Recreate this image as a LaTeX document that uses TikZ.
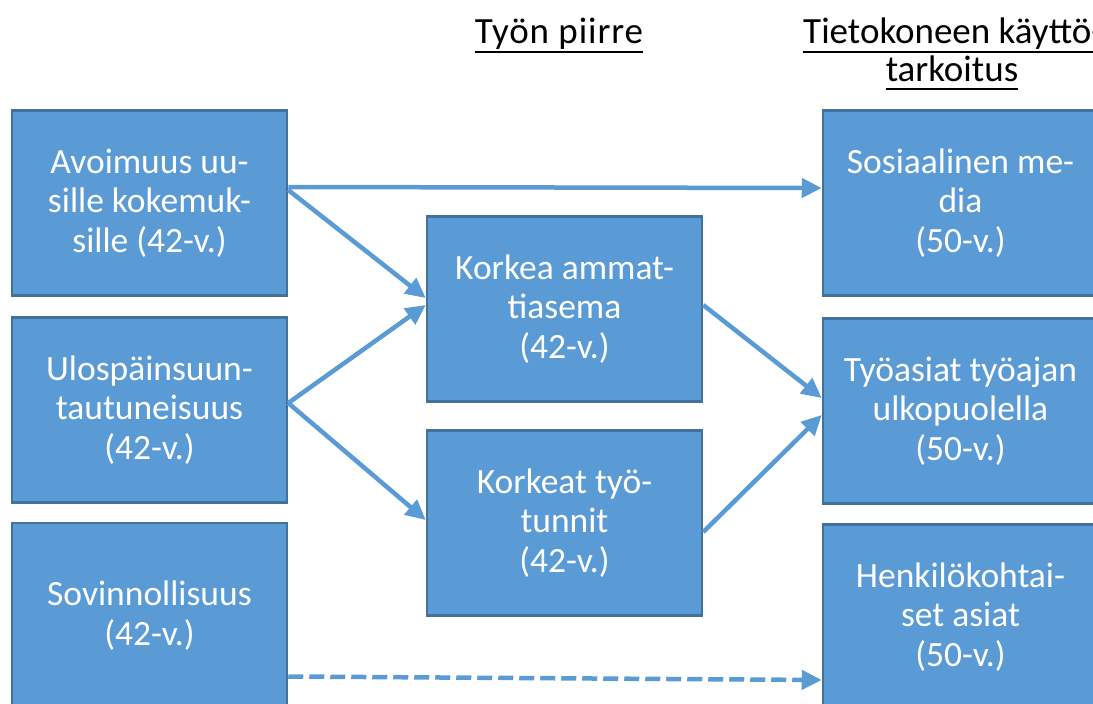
\documentclass[tikz,border=0pt]{standalone}
\usepackage{fontspec}
\setmainfont{Carlito}
\newfontfamily\headfont[LetterSpace=2.5]{Carlito}
\usetikzlibrary{arrows.meta}
\definecolor{boxfill}{HTML}{5B9BD5}
\definecolor{boxedge}{HTML}{41719C}
\begin{document}
\begin{tikzpicture}[x=1pt,y=-1pt,
  factor/.style={draw=boxedge, line width=2.5pt, fill=boxfill,
    minimum width=275pt, minimum height=185pt, inner sep=0pt,
    align=center, text=white, font=\fontsize{35.5}{39.5}\selectfont},
  link/.style={draw=boxfill, line width=4.5pt,
    -{Triangle[length=20pt,width=19pt]}},
  weaklink/.style={link, dash pattern=on 15pt off 6pt},
  heading/.style={inner sep=0pt, anchor=base, font=\fontsize{37}{40}\selectfont},
  spacedheading/.style={heading, font=\headfont\fontsize{37}{40}\selectfont},
  underbar/.style={draw=black, line width=2pt}
]
\useasboundingbox (0,0) rectangle (1093,704);

% column headings
\node[spacedheading] (workhead) at (559,43) {Työn piirre};
\node[heading] (usehead1) at (953,43) {Tietokoneen käyttö-};
\node[heading] (usehead2) at (952,81) {tarkoitus};
\draw[underbar] ([yshift=-9pt]workhead.base west) -- ([yshift=-9pt]workhead.base east);
\draw[underbar] ([yshift=-9pt]usehead1.base west) -- ([yshift=-9pt]usehead1.base east);
\draw[underbar] ([yshift=-8pt]usehead2.base west) -- ([yshift=-8pt]usehead2.base east);

% personality traits
\node[factor] (open)  at (149.5,203)   {Avoimuus uu-\\sille kokemuk-\\sille (42-v.)};
\node[factor] (extra) at (149.5,410)   {Ulospäinsuun-\\tautuneisuus\\(42-v.)};
\node[factor] (agree) at (149.5,615.5) {Sovinnollisuus\\(42-v.)};

% work characteristics
\node[factor] (status) at (564.5,309) {Korkea ammat-\\tiasema\\(42-v.)};
\node[factor] (hours)  at (564.5,523) {Korkeat työ-\\tunnit\\(42-v.)};

% purposes of computer use
\node[factor] (social)   at (960.5,203) {Sosiaalinen me-\\dia\\(50-v.)};
\node[factor] (worktime) at (960.5,411) {Työasiat työajan\\ulkopuolella\\(50-v.)};
\node[factor] (personal) at (960.5,617) {Henkilökohtai-\\set asiat\\(50-v.)};

% connections
\draw[link] ([yshift=16pt]open.east) -- ([yshift=15pt]social.west);
\draw[link] ([yshift=13pt]open.east) -- ([yshift=11pt]status.west);
\draw[link] ([yshift=7pt]extra.east) -- ([yshift=4pt]status.west);
\draw[link] ([yshift=7pt]extra.east) -- ([yshift=3pt]hours.west);
\draw[link] ([yshift=4pt]status.east) -- ([yshift=13pt]worktime.west);
\draw[link] ([yshift=-9pt]hours.east) -- ([yshift=-4pt]worktime.west);
\draw[weaklink] ([yshift=-61pt]agree.east) -- ([yshift=-63pt]personal.west);
\end{tikzpicture}
\end{document}
